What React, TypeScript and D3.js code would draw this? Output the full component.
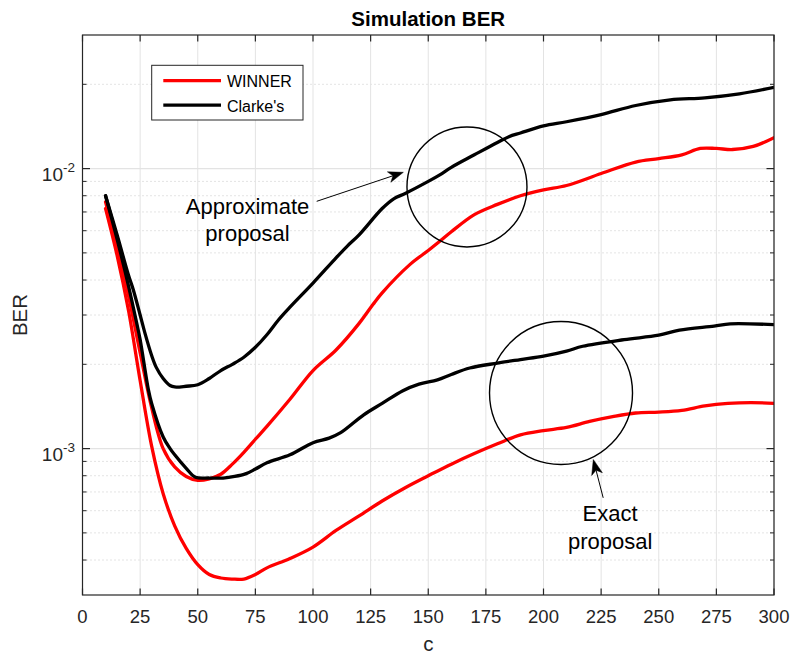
import React from 'react';
import * as d3 from 'd3';

// ---------- data ----------
const clarkeApproxX = [10, 15, 20, 22, 25, 27, 30, 32, 35, 38, 40, 45, 50, 55, 60, 65, 70, 75, 80, 85, 90, 100, 110, 115, 120, 130, 135, 140, 150, 155, 160, 170, 180, 185, 190, 200, 210, 225, 240, 255, 270, 285, 300];
const clarkeApproxY = [8.0e-3, 5.8e-3, 4.15e-3, 3.7e-3, 3.0e-3, 2.6e-3, 2.15e-3, 1.95e-3, 1.78e-3, 1.68e-3, 1.66e-3, 1.67e-3, 1.69e-3, 1.78e-3, 1.9e-3, 2.0e-3, 2.12e-3, 2.3e-3, 2.55e-3, 2.88e-3, 3.2e-3, 3.9e-3, 4.8e-3, 5.3e-3, 5.8e-3, 7.2e-3, 7.8e-3, 8.15e-3, 9.0e-3, 9.5e-3, 1.01e-2, 1.12e-2, 1.24e-2, 1.3e-2, 1.34e-2, 1.42e-2, 1.47e-2, 1.56e-2, 1.68e-2, 1.76e-2, 1.79e-2, 1.85e-2, 1.95e-2];

const winnerApproxX = [10, 15, 20, 25, 30, 35, 40, 45, 50, 55, 60, 65, 70, 75, 80, 90, 100, 110, 120, 126, 130, 142, 150, 155, 160, 170, 180, 190, 200, 210, 225, 240, 250, 260, 268, 275, 282, 291, 300];
const winnerApproxY = [7.6e-3, 5.3e-3, 3.5e-3, 2.2e-3, 1.4e-3, 1.0e-3, 8.6e-4, 7.95e-4, 7.7e-4, 7.8e-4, 8.1e-4, 8.8e-4, 9.7e-4, 1.08e-3, 1.2e-3, 1.5e-3, 1.9e-3, 2.25e-3, 2.8e-3, 3.27e-3, 3.6e-3, 4.54e-3, 5.1e-3, 5.5e-3, 5.95e-3, 6.85e-3, 7.45e-3, 8.0e-3, 8.4e-3, 8.7e-3, 9.6e-3, 1.055e-2, 1.085e-2, 1.12e-2, 1.18e-2, 1.18e-2, 1.17e-2, 1.2e-2, 1.29e-2];

const clarkeExactX = [10, 15, 20, 23.5, 25, 28.6, 30, 35, 38, 40, 45, 49, 55, 61, 66, 71, 75, 80, 90, 100, 107, 112, 122, 130, 139, 146, 154, 160, 168, 180, 190, 200, 210, 217, 235, 250, 259, 274, 281, 300];
const clarkeExactY = [8.0e-3, 5.6e-3, 3.8e-3, 2.81e-3, 2.45e-3, 1.62e-3, 1.45e-3, 1.1e-3, 1.0e-3, 9.5e-4, 8.5e-4, 7.9e-4, 7.85e-4, 7.85e-4, 7.95e-4, 8.14e-4, 8.45e-4, 8.9e-4, 9.5e-4, 1.05e-3, 1.09e-3, 1.14e-3, 1.32e-3, 1.45e-3, 1.61e-3, 1.7e-3, 1.76e-3, 1.84e-3, 1.94e-3, 2.02e-3, 2.08e-3, 2.14e-3, 2.23e-3, 2.32e-3, 2.45e-3, 2.54e-3, 2.65e-3, 2.74e-3, 2.79e-3, 2.77e-3];

const winnerExactX = [10, 15, 20, 25, 30, 35, 40, 45, 50, 55, 60, 65, 70, 75, 80, 90, 100, 110, 120, 130, 140, 150, 160, 170, 180, 190, 200, 210, 220, 230, 240, 250, 260, 270, 280, 290, 300];
const winnerExactY = [7.2e-3, 4.9e-3, 3.1e-3, 1.75e-3, 1.02e-3, 6.9e-4, 5.3e-4, 4.4e-4, 3.85e-4, 3.55e-4, 3.45e-4, 3.42e-4, 3.42e-4, 3.55e-4, 3.75e-4, 4.05e-4, 4.45e-4, 5.1e-4, 5.75e-4, 6.5e-4, 7.25e-4, 8.0e-4, 8.8e-4, 9.6e-4, 1.04e-3, 1.12e-3, 1.16e-3, 1.19e-3, 1.25e-3, 1.3e-3, 1.34e-3, 1.35e-3, 1.37e-3, 1.42e-3, 1.45e-3, 1.46e-3, 1.45e-3];

const xTicks = [0, 25, 50, 75, 100, 125, 150, 175, 200, 225, 250, 275, 300];
const yMajorTicks = [1e-3, 1e-2];
const yMajorExp = ['-3', '-2'];
const yMinorTicks = [4e-4, 5e-4, 6e-4, 7e-4, 8e-4, 9e-4, 2e-3, 3e-3, 4e-3, 5e-3, 6e-3, 7e-3, 8e-3, 9e-3, 2e-2];
const xDomain = [0, 300];
const yDomain = [3e-4, 3e-2];

const legendNames = ['WINNER', "Clarke's"];
const legendColors = ['#ff0000', '#000000'];

const titleText = 'Simulation BER';
const xLabelText = 'c';
const yLabelText = 'BER';

// annotations in data coordinates
const approxLabel = ['Approximate', 'proposal'];
const approxLabelPos = [71.6, 6.89e-3];
const approxArrowTail = [101.6, 7.64e-3];
const approxArrowTip = [139.2, 9.7e-3];
const approxCircle = [166.8, 8.6e-3];

const exactLabel = ['Exact', 'proposal'];
const exactLabelPos = [228.9, 5.5e-4];
const exactArrowTail = [225.9, 6.67e-4];
const exactArrowTip = [221.6, 9.14e-4];
const exactCircle = [207.6, 1.58e-3];

// ---------- layout ----------
const W = 790;
const H = 654;
const L = 82.5;
const R = 774;
const T = 35;
const B = 595;
const FONT = "'Liberation Sans', Arial, Helvetica, sans-serif";
const AX = '#262626';

function Arrow({ tail, tip, x, y }: any) {
  const x1 = x(tail[0]), y1 = y(tail[1]);
  const x2 = x(tip[0]), y2 = y(tip[1]);
  const ang = Math.atan2(y2 - y1, x2 - x1);
  const len = 15, hw = 5.5, back = 11;
  const ux = Math.cos(ang), uy = Math.sin(ang);
  const px = -uy, py = ux;
  const bx = x2 - ux * len, by = y2 - uy * len;
  const nx = x2 - ux * back, ny = y2 - uy * back;
  const head = `M${x2},${y2} L${bx + px * hw},${by + py * hw} L${nx},${ny} L${bx - px * hw},${by - py * hw} Z`;
  return (
    <g>
      <line x1={x1} y1={y1} x2={nx} y2={ny} stroke="#000" strokeWidth={1} />
      <path d={head} fill="#000" stroke="#000" strokeWidth={0.5} />
    </g>
  );
}

export default function App() {
  const x = d3.scaleLinear().domain(xDomain).range([L, R]);
  const y = d3.scaleLog().domain(yDomain).range([B, T]);
  const line = d3
    .line<[number, number]>()
    .x((d) => x(d[0]))
    .y((d) => y(d[1]))
    .curve(d3.curveCatmullRom.alpha(0.5));
  const zip = (xs: number[], ys: number[]) => xs.map((v, i) => [v, ys[i]] as [number, number]);

  const series = [
    { pts: zip(winnerApproxX, winnerApproxY), color: legendColors[0] },
    { pts: zip(winnerExactX, winnerExactY), color: legendColors[0] },
    { pts: zip(clarkeApproxX, clarkeApproxY), color: legendColors[1] },
    { pts: zip(clarkeExactX, clarkeExactY), color: legendColors[1] },
  ];

  const labelText = (lines: string[], pos: number[], key: string) => (
    <text key={key} x={x(pos[0])} y={y(pos[1])} textAnchor="middle" fontFamily={FONT} fontSize={22} fill="#000">
      {lines.map((t, i) => (
        <tspan key={i} x={x(pos[0])} dy={i === 0 ? 0 : 27.5}>
          {t}
        </tspan>
      ))}
    </text>
  );

  return (
    <svg
      width={W}
      height={H}
      style={{ position: 'absolute', left: 0, top: 0, background: '#fff' }}
      xmlns="http://www.w3.org/2000/svg"
    >
      <rect x={0} y={0} width={W} height={H} fill="#fff" />
      <defs>
        <clipPath id="plotClip">
          <rect x={L} y={T} width={R - L} height={B - T} />
        </clipPath>
      </defs>
      <rect x={L} y={T} width={R - L} height={B - T} fill="#fff" />
      {yMinorTicks.map((v) => (
        <line key={'mg' + v} x1={L} x2={R} y1={y(v)} y2={y(v)} stroke="#c8c8c8" strokeWidth={1} strokeDasharray="1,3" />
      ))}
      {xTicks.map((v) => (
        <line key={'gx' + v} x1={x(v)} x2={x(v)} y1={T} y2={B} stroke="#e3e3e3" strokeWidth={1} />
      ))}
      {yMajorTicks.map((v) => (
        <line key={'gy' + v} x1={L} x2={R} y1={y(v)} y2={y(v)} stroke="#e3e3e3" strokeWidth={1.3} />
      ))}
      <g clipPath="url(#plotClip)">
        {series.map((s, i) => (
          <path key={i} d={line(s.pts) || ''} fill="none" stroke={s.color} strokeWidth={3.3} strokeLinejoin="round" strokeLinecap="round" />
        ))}
      </g>
      <circle cx={x(approxCircle[0])} cy={y(approxCircle[1])} r={60} fill="none" stroke="#000" strokeWidth={1.4} />
      <circle cx={x(exactCircle[0])} cy={y(exactCircle[1])} r={71.5} fill="none" stroke="#000" strokeWidth={1.4} />
      <Arrow tail={approxArrowTail} tip={approxArrowTip} x={x} y={y} />
      <Arrow tail={exactArrowTail} tip={exactArrowTip} x={x} y={y} />
      {labelText(approxLabel, approxLabelPos, 'al')}
      {labelText(exactLabel, exactLabelPos, 'el')}
      <rect x={L} y={T} width={R - L} height={B - T} fill="none" stroke={AX} strokeWidth={1.2} />
      {xTicks.map((v) => (
        <g key={'xt' + v}>
          <line x1={x(v)} x2={x(v)} y1={B} y2={B - 6.5} stroke={AX} strokeWidth={1.2} />
          <line x1={x(v)} x2={x(v)} y1={T} y2={T + 6.5} stroke={AX} strokeWidth={1.2} />
          <text x={x(v)} y={623} textAnchor="middle" fontFamily={FONT} fontSize={18.5} fill={AX}>
            {v}
          </text>
        </g>
      ))}
      {yMajorTicks.map((v, i) => (
        <g key={'yt' + v}>
          <line x1={L} x2={L + 7.5} y1={y(v)} y2={y(v)} stroke={AX} strokeWidth={1.2} />
          <line x1={R} x2={R - 7.5} y1={y(v)} y2={y(v)} stroke={AX} strokeWidth={1.2} />
          <text x={75} y={y(v) + 12.7} textAnchor="end" fontFamily={FONT} fontSize={19} fill={AX}>
            <tspan>10</tspan>
            <tspan dy={-9.5} fontSize={13.5}>
              {yMajorExp[i]}
            </tspan>
          </text>
        </g>
      ))}
      {yMinorTicks.map((v) => (
        <g key={'ym' + v}>
          <line x1={L} x2={L + 4} y1={y(v)} y2={y(v)} stroke={AX} strokeWidth={1} />
          <line x1={R} x2={R - 4} y1={y(v)} y2={y(v)} stroke={AX} strokeWidth={1} />
        </g>
      ))}
      <text x={(L + R) / 2} y={26} textAnchor="middle" fontFamily={FONT} fontSize={20.5} fontWeight="bold" fill="#000">
        {titleText}
      </text>
      <text x={(L + R) / 2} y={651} textAnchor="middle" fontFamily={FONT} fontSize={20.5} fill={AX}>
        {xLabelText}
      </text>
      <text
        transform={`translate(27.3, ${(T + B) / 2}) rotate(-90)`}
        textAnchor="middle"
        fontFamily={FONT}
        fontSize={20.5}
        fill={AX}
      >
        {yLabelText}
      </text>
      <rect x={151.7} y={65.3} width={151.3} height={54.7} fill="#fff" stroke={AX} strokeWidth={1} />
      {legendNames.map((n, i) => (
        <g key={n}>
          <line x1={163.3} x2={221} y1={80.7 + i * 24.5} y2={80.7 + i * 24.5} stroke={legendColors[i]} strokeWidth={3.3} />
          <text x={227} y={87.3 + i * 24.5} fontFamily={FONT} fontSize={16} fill="#000">
            {n}
          </text>
        </g>
      ))}
    </svg>
  );
}
